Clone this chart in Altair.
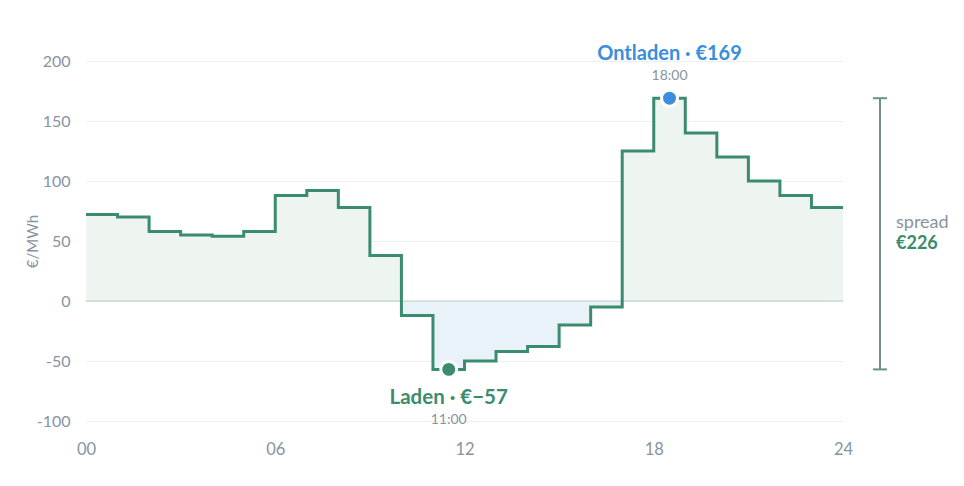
import pandas as pd
import altair as alt

# hourly day-ahead prices (EUR/MWh), hour 0..23
hours = list(range(24))
prices = [72, 70, 58, 55, 54, 58, 88, 92, 78, 38, -12, -57,
          -50, -42, -38, -20, -5, 125, 169, 140, 120, 100, 88, 78]

x_ticks = [0, 6, 12, 18, 24]

charge_hour, charge_price = 11, -57
discharge_hour, discharge_price = 18, 169
spread = discharge_price - charge_price

GREEN = '#3b8c6e'
BLUE = '#3a8edb'
GREY = '#8794a1'
FONT = 'Lato'

# step-after needs a closing point at 24
df = pd.DataFrame({'hour': hours + [24], 'price': prices + [prices[-1]]})
df['pos'] = df.price.clip(lower=0)
df['neg'] = df.price.clip(upper=0)
df['zero'] = 0

x = alt.X('hour:Q', scale=alt.Scale(domain=[0, 24], nice=False),
          axis=alt.Axis(values=x_ticks, title=None, grid=False, ticks=False, domain=False,
                        labelFlush=False, labelPadding=20, labelFontSize=16.5,
                        labelColor=GREY, labelFont=FONT,
                        labelExpr="(datum.value < 10 ? '0' : '') + datum.value"))
y_scale = alt.Scale(domain=[-100, 200], nice=False)

base = alt.Chart(df)

area_pos = base.mark_area(interpolate='step-after', color='#eef5f1').encode(
    x=x, y=alt.Y('pos:Q', scale=y_scale,
                 axis=alt.Axis(values=[-100, -50, 0, 50, 100, 150, 200], title='€/MWh',
                               ticks=False, domain=False, labelPadding=16, labelFontSize=16,
                               labelColor=GREY, labelFont=FONT, gridColor='#eceff1',
                               titleColor=GREY, titleFont=FONT, titleFontSize=15,
                               titleFontWeight='normal', titleX=-54, titleY=180,
                               titleAlign='center', titleBaseline='middle',
                               labelExpr="datum.value < 0 ? '-' + abs(datum.value) : '' + datum.value")),
    y2='zero:Q')

area_neg = base.mark_area(interpolate='step-after', color='#eaf2f9').encode(
    x=x, y=alt.Y('neg:Q', scale=y_scale), y2='zero:Q')

zero_line = alt.Chart(pd.DataFrame({'v': [0]})).mark_rule(color='#cddad5', strokeWidth=1.5).encode(
    y=alt.Y('v:Q', scale=y_scale))

line = base.mark_line(interpolate='step-after', color=GREEN, strokeWidth=3).encode(
    x=x, y=alt.Y('price:Q', scale=y_scale))

marks = pd.DataFrame({
    'hour': [charge_hour + 0.5, discharge_hour + 0.5],
    'price': [charge_price, discharge_price],
    'kind': ['Laden', 'Ontladen'],
    'title': ['Laden · €−57', 'Ontladen · €169'],
    'time': ['11:00', '18:00'],
})
color = alt.Color('kind:N', scale=alt.Scale(domain=['Laden', 'Ontladen'], range=[GREEN, BLUE]),
                  legend=None)

points = alt.Chart(marks).mark_circle(size=254, opacity=1, stroke='white', strokeWidth=3).encode(
    x=x, y=alt.Y('price:Q', scale=y_scale), color=color)

lo = marks[marks.kind == 'Laden']
hi = marks[marks.kind == 'Ontladen']

lo_title = alt.Chart(lo).mark_text(font=FONT, fontSize=20.5, fontWeight='bold', dy=29).encode(
    x=x, y=alt.Y('price:Q', scale=y_scale), text='title:N', color=color)
lo_time = alt.Chart(lo).mark_text(font=FONT, fontSize=14, color=GREY, dy=51).encode(
    x=x, y=alt.Y('price:Q', scale=y_scale), text='time:N')
hi_title = alt.Chart(hi).mark_text(font=FONT, fontSize=20, fontWeight='bold', dy=-44).encode(
    x=x, y=alt.Y('price:Q', scale=y_scale), text='title:N', color=color)
hi_time = alt.Chart(hi).mark_text(font=FONT, fontSize=14, color=GREY, dy=-22).encode(
    x=x, y=alt.Y('price:Q', scale=y_scale), text='time:N')

# spread bracket to the right of the plot
sp = pd.DataFrame({'lo': [charge_price], 'hi': [discharge_price],
                   'mid': [(charge_price + discharge_price) / 2],
                   'label': ['spread'], 'value': ['€' + str(spread)]})
sp_base = alt.Chart(sp)
BRACKET = '#6f8f8b'
bracket = sp_base.mark_rule(color=BRACKET, strokeWidth=2).encode(
    x=alt.value(794), y=alt.Y('hi:Q', scale=y_scale), y2='lo:Q')
cap_top = sp_base.mark_rule(color=BRACKET, strokeWidth=2).encode(
    x=alt.value(787), x2=alt.value(801), y=alt.Y('hi:Q', scale=y_scale))
cap_bot = sp_base.mark_rule(color=BRACKET, strokeWidth=2).encode(
    x=alt.value(787), x2=alt.value(801), y=alt.Y('lo:Q', scale=y_scale))
sp_label = sp_base.mark_text(font=FONT, fontSize=18, color=GREY, align='left', dy=-11).encode(
    x=alt.value(810), y=alt.Y('mid:Q', scale=y_scale), text='label:N')
sp_value = sp_base.mark_text(font=FONT, fontSize=18, fontWeight='bold', color=GREEN,
                             align='left', dy=10).encode(
    x=alt.value(810), y=alt.Y('mid:Q', scale=y_scale), text='value:N')

chart = alt.layer(
    area_pos, area_neg, zero_line, line, points,
    lo_title, lo_time, hi_title, hi_time,
    bracket, cap_top, cap_bot, sp_label, sp_value,
).properties(
    width=757, height=360,
    autosize=alt.AutoSizeParams(type='none'),
    padding={'left': 78, 'top': 53, 'right': 112, 'bottom': 50},
).configure_view(stroke=None)

chart.save("out.html", embed_options={"renderer": "svg", "actions": False})
